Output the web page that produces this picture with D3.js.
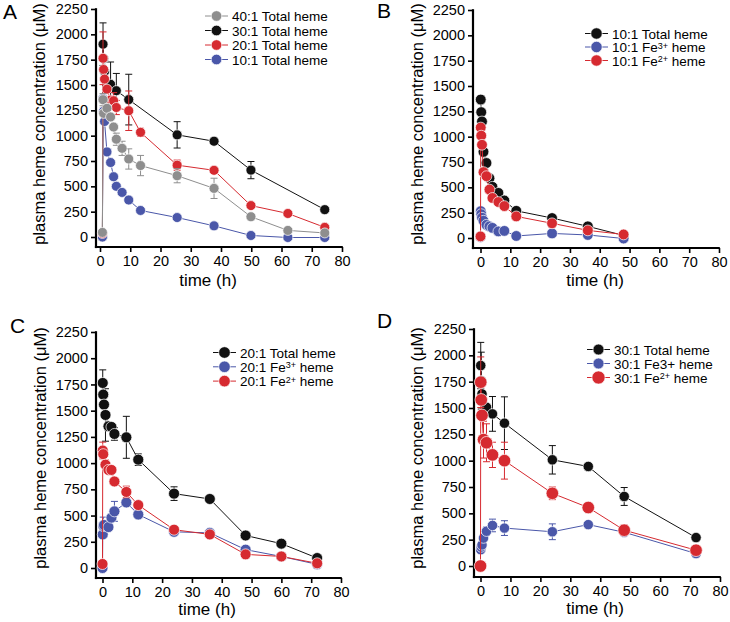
<!DOCTYPE html>
<html>
<head>
<meta charset="utf-8">
<script src="https://cdn.jsdelivr.net/npm/d3@7"></script>
<style>
  body { margin: 0; background: #fff; }
  svg { display: block; }
  text { font-family: "Liberation Sans", Arial, sans-serif; fill: #000; }
</style>
</head>
<body>
<svg id="fig" width="730" height="622"></svg>
<script>
var yTicks = [0, 250, 500, 750, 1000, 1250, 1500, 1750, 2000, 2250];
var xTicks = [0, 10, 20, 30, 40, 50, 60, 70, 80];

// panel A - total heme for each ratio
var timeA = [0.8, 1.0, 1.2, 1.5, 2.3, 3.5, 4.5, 5.4, 7.3, 9.5, 13.4, 25.5, 37.7, 49.9, 62.1, 74.3];
var total40A = [45, 1355, 1220, null, 1270, 1185, 1085, 965, 875, 770, 705, 605, 480, 200, 65, 40];
var err40A = [0, 60, 0, 0, 0, 0, 0, 60, 70, 100, 100, 70, 100, 20, 0, 0];
var total30A = [0, 1903, 1760, 1634, null, 1507, null, 1444, null, 1356, null, 1008, 945, 660, null, 270];
var err30A = [0, 210, 0, 0, 0, 220, 0, 170, 0, 250, 0, 130, 30, 85, 0, 0];
var total20A = [35, 1764, 1653, 1558, 1459, 1351, 1345, 1278, null, 1246, 1033, 709, 658, 310, 232, 95];
var err20A = [0, 260, 0, 0, 0, 0, 80, 70, 0, 195, 40, 50, 0, 0, 0, 0];
var total10A = [0, 1366, 1242, 1140, 840, 735, 595, 500, 440, 365, 262, 192, 110, 15, -5, -5];

// panel B - 10:1
var timeB = [0, 0.08, 0.25, 0.5, 1, 2, 3, 4, 6, 8, 12, 24, 36, 48];
var total10B = [null, 1366, 1242, 1150, 850, 740, 590, 505, 445, 370, 268, 197, 115, 25];
var errTotal10B = [0, 40, 0, 0, 0, 0, 0, 0, 0, 0, 0, 0, 0, 0];
var fe3B = [10, 265, 235, 200, 170, 130, 115, 100, 65, 70, 20, 45, 30, -5];
var fe2B = [16, 1090, 1010, 920, 650, 610, 478, 395, 355, 315, 213, 145, 75, 35];

// panel C - 20:1
var timeC = [0, 0.08, 0.25, 0.5, 1, 2, 3, 4, 8, 12, 24, 36, 48, 60, 72];
var total20C = [null, 1764, 1653, 1558, 1459, 1351, 1345, 1278, 1246, 1033, 709, 658, 310, 232, 95];
var errTotal20C = [0, 125, 0, 0, 250, 0, 0, 60, 200, 55, 65, 0, 0, 0, 0];
var fe3C = [0, 320, 400, 410, null, 390, 480, 540, 625, 510, 345, 335, 175, 110, 35];
var errFe3C = [0, 0, 85, 0, 0, 0, 0, 95, 35, 0, 0, 0, 0, 0, 0];
var fe2C = [38, 1120, 1085, null, 985, 935, 935, 825, 725, 600, 365, 320, 130, 110, 45];
var errFe2C = [0, 80, 0, 0, 45, 0, 0, 0, 55, 0, 0, 0, 0, 0, 0];

// panel D - 30:1
var timeD = [0, 0.08, 0.25, 0.5, 1, 2, 4, 8, 24, 36, 48, 72];
var total30D = [null, 1903, 1760, 1634, null, 1507, 1444, 1356, 1008, 945, 660, 270];
var errTotal30D = [0, 220, 270, 0, 0, 0, 165, 250, 135, 0, 85, 0];
var fe3D = [null, 155, 180, 200, 265, 330, 385, 360, 325, 393, 320, 118];
var errFe3D = [0, 20, 0, 0, 0, 40, 60, 70, 75, 0, 0, 0];
var fe2D = [0, 1745, 1577, 1430, 1200, 1170, 1055, 1000, 690, 555, 340, 150];
var errFe2D = [0, 240, 0, 0, 175, 180, 120, 175, 60, 0, 50, 0];

var BLACK = "#111111", GRAY = "#8e8e8e", RED = "#d62a30", BLUE = "#4a57a9";

var svg = d3.select("#fig");

var panels = [
  {letter: "A", lx: 3, ly: 19, axX: 96, axY: 247, x0: 100, x80: 342, y0: 237, yTop: 9,
   titleX: 45, titleYc: 124, xTitleX: 208, xTitleY: 286, r: 5,
   times: timeA,
   series: [
     {values: total30A, errors: err30A, color: BLACK, label: ["30:1 Total heme"]},
     {values: total10A, errors: null, color: BLUE, label: ["10:1 Total heme"]},
     {values: total20A, errors: err20A, color: RED, label: ["20:1 Total heme"]},
     {values: total40A, errors: err40A, color: GRAY, label: ["40:1 Total heme"]}
   ],
   legendOrder: [3, 0, 2, 1], legX: 205, legY: 16, legStep: 14.5},
  {letter: "B", lx: 377, ly: 18, axX: 473, axY: 248, x0: 480.5, x80: 719, y0: 238, yTop: 10,
   titleX: 423, titleYc: 124, xTitleX: 595, xTitleY: 286, r: 5.4,
   times: timeB,
   series: [
     {values: total10B, errors: errTotal10B, color: BLACK, label: ["10:1 Total heme"]},
     {values: fe3B, errors: null, color: BLUE, label: ["10:1 Fe", "3+", " heme"]},
     {values: fe2B, errors: null, color: RED, label: ["10:1 Fe", "2+", " heme"]}
   ],
   legendOrder: [0, 1, 2], legX: 585, legY: 33.5, legStep: 13.5},
  {letter: "C", lx: 10, ly: 333, axX: 96, axY: 578, x0: 102.5, x80: 341, y0: 568, yTop: 332,
   titleX: 46, titleYc: 448, xTitleX: 207, xTitleY: 615, r: 5.5,
   times: timeC,
   series: [
     {values: total20C, errors: errTotal20C, color: BLACK, label: ["20:1 Total heme"]},
     {values: fe3C, errors: errFe3C, color: BLUE, label: ["20:1 Fe", "3+", " heme"]},
     {values: fe2C, errors: errFe2C, color: RED, label: ["20:1 Fe", "2+", " heme"]}
   ],
   legendOrder: [0, 1, 2], legX: 213, legY: 352.5, legStep: 14.3},
  {letter: "D", lx: 377, ly: 328, axX: 474, axY: 577, x0: 480.5, x80: 720, y0: 566, yTop: 329,
   titleX: 423, titleYc: 448, xTitleX: 595, xTitleY: 614, r: 5.2,
   times: timeD,
   series: [
     {values: total30D, errors: errTotal30D, color: BLACK, label: ["30:1 Total heme"]},
     {values: fe3D, errors: errFe3D, color: BLUE, label: ["30:1 Fe3+ heme"]},
     {values: fe2D, errors: errFe2D, color: RED, label: ["30:1 Fe", "2+", " heme"], r: 6.3}
   ],
   legendOrder: [0, 1, 2], legX: 587, legY: 349.5, legStep: 14}
];

function drawPanel(p) {
  var g = svg.append("g");
  var x = d3.scaleLinear().domain([0, 80]).range([p.x0, p.x80]);
  var y = d3.scaleLinear().domain([0, 2250]).range([p.y0, p.yTop]);

  var ya = g.append("g").attr("transform", "translate(" + p.axX + ",0)")
    .call(d3.axisLeft(y).tickValues(yTicks).tickSize(5).tickPadding(3).tickFormat(d3.format("d")));
  ya.select(".domain").remove();
  var xa = g.append("g").attr("transform", "translate(0," + p.axY + ")")
    .call(d3.axisBottom(x).tickValues(xTicks).tickSize(5).tickPadding(4));
  xa.select(".domain").remove();
  g.selectAll(".tick line").attr("stroke", "#000").attr("stroke-width", 1.6);
  g.selectAll(".tick text").attr("fill", "#000")
    .style("font-size", "14.5px").style("font-family", '"Liberation Sans", Arial, sans-serif');

  g.append("line").attr("x1", p.axX).attr("x2", p.axX).attr("y1", y(2250) - 0.8).attr("y2", p.axY + 1.1)
    .attr("stroke", "#000").attr("stroke-width", 2.2);
  g.append("line").attr("x1", p.axX - 1.1).attr("x2", x(80) + 0.8).attr("y1", p.axY).attr("y2", p.axY)
    .attr("stroke", "#000").attr("stroke-width", 2.2);

  // titles
  g.append("text").attr("transform", "translate(" + p.titleX + "," + p.titleYc + ") rotate(-90)")
    .attr("text-anchor", "middle").style("font-size", "16.5px")
    .text("plasma heme concentration (\u03bcM)");
  g.append("text").attr("x", p.xTitleX).attr("y", p.xTitleY).attr("text-anchor", "middle")
    .style("font-size", "17px").text("time (h)");
  g.append("text").attr("x", p.lx).attr("y", p.ly).style("font-size", "21px").text(p.letter);

  // series
  p.series.forEach(function(s) {
    var pts = p.times.map(function(t, i) {
      return {t: t, v: s.values[i], e: s.errors ? s.errors[i] : 0};
    }).filter(function(d) { return d.v !== null; });
    var rad = s.r || p.r;

    g.append("path").datum(pts)
      .attr("fill", "none").attr("stroke", s.color).attr("stroke-width", 1)
      .attr("d", d3.line().x(function(d) { return x(d.t); }).y(function(d) { return y(d.v); }));

    var eb = g.append("g").attr("stroke", s.color).attr("stroke-width", 1);
    pts.filter(function(d) { return d.e > 0; }).forEach(function(d) {
      var cx = x(d.t);
      eb.append("line").attr("x1", cx).attr("x2", cx).attr("y1", y(d.v + d.e)).attr("y2", y(d.v - d.e));
      eb.append("line").attr("x1", cx - 3.5).attr("x2", cx + 3.5).attr("y1", y(d.v + d.e)).attr("y2", y(d.v + d.e));
      eb.append("line").attr("x1", cx - 3.5).attr("x2", cx + 3.5).attr("y1", y(d.v - d.e)).attr("y2", y(d.v - d.e));
    });

    g.selectAll(null).data(pts).enter().append("circle")
      .attr("cx", function(d) { return x(d.t); })
      .attr("cy", function(d) { return y(d.v); })
      .attr("r", rad)
      .attr("fill", s.color)
      .attr("stroke", "#fff").attr("stroke-width", 0.7);
  });

  // legend
  p.legendOrder.forEach(function(idx, k) {
    var s = p.series[idx];
    var ly = p.legY + k * p.legStep;
    var rad = (s.r || p.r) + 0.3;
    g.append("line").attr("x1", p.legX).attr("x2", p.legX + 23).attr("y1", ly).attr("y2", ly)
      .attr("stroke", s.color).attr("stroke-width", 1);
    g.append("circle").attr("cx", p.legX + 11.5).attr("cy", ly).attr("r", rad)
      .attr("fill", s.color).attr("stroke", "#fff").attr("stroke-width", 0.7);
    var t = g.append("text").attr("x", p.legX + 27).attr("y", ly + 5).style("font-size", "13.5px");
    s.label.forEach(function(part, j) {
      var ts = t.append("tspan").text(part);
      if (j === 1) ts.attr("dy", -3.5).style("font-size", "9px");
      if (j === 2) ts.attr("dy", 3.5);
    });
  });
}

panels.forEach(drawPanel);
</script>
</body>
</html>
